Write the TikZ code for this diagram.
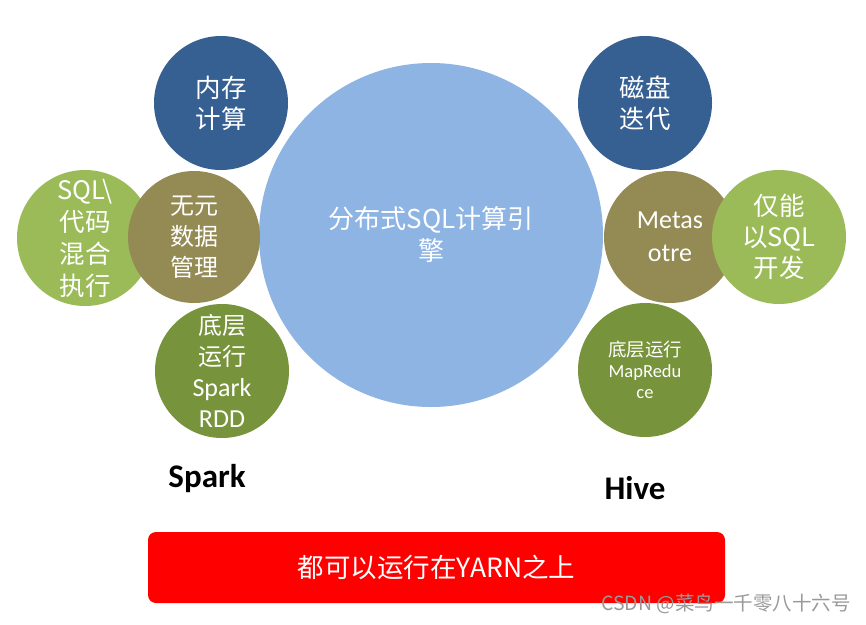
\documentclass[tikz,border=0pt]{standalone}
\usepackage{fontspec}
\setmainfont{Noto Sans CJK SC}
\newfontfamily\latinfont{Carlito}
\usetikzlibrary{positioning}

\definecolor{engineblue}{RGB}{142,180,227}
\definecolor{darkblue}{RGB}{55,96,146}
\definecolor{olivebrown}{RGB}{148,138,84}
\definecolor{lightgreen}{RGB}{155,187,89}
\definecolor{darkgreen}{RGB}{119,147,60}

\begin{document}
\begin{tikzpicture}[x=1pt,y=-1pt]
    % Styles
    \tikzset{
        bubble/.style={circle, minimum size=134pt, inner sep=0pt, text=white, align=center, font=\fontsize{24}{31}\selectfont},
        engine/.style={circle, fill=engineblue, minimum size=344pt, inner sep=0pt, text=white, align=center, font=\fontsize{26}{32}\selectfont},
        side_label/.style={font=\latinfont\bfseries\fontsize{33}{34}\selectfont, text=black},
        banner/.style={rectangle, fill=red, rounded corners=8pt, minimum width=577pt, minimum height=71pt, text=white, font=\fontsize{26.5}{30}\selectfont}
    }
    \useasboundingbox (0,0) rectangle (866,624);

    % --- Centre ---
    \node[engine] (engine) at (431,235) {分布式SQL计算引\\擎};

    % --- Spark side ---
    \node[bubble, fill=darkblue, font=\fontsize{25.5}{31}\selectfont] (mem) at (221,103) {内存\\计算};
    \node[bubble, fill=lightgreen, minimum size=136pt, font=\fontsize{25.5}{32}\selectfont] (mixed) at (85,238) {SQL\textbackslash\\代码\\混合\\执行};
    \node[bubble, fill=olivebrown, minimum size=132pt] (nometa) at (194,237) {无元\\数据\\管理};
    \node[bubble, fill=darkgreen] (rdd) at (222,371) {底层\\运行\\{\latinfont\fontsize{26}{32}\selectfont Spark}\\{\latinfont\fontsize{26}{32}\selectfont RDD}};

    % --- Hive side ---
    \node[bubble, fill=darkblue, font=\fontsize{25.5}{31}\selectfont] (disk) at (645,103) {磁盘\\迭代};
    \node[bubble, fill=olivebrown, minimum size=132pt, font=\latinfont\fontsize{26}{33}\selectfont] (metastore) at (670,237) {Metas\\otre};
    \node[bubble, fill=lightgreen, font=\fontsize{25.5}{31}\selectfont] (sqlonly) at (779,237) {仅能\\以SQL\\开发};
    \node[bubble, fill=darkgreen, font=\fontsize{18.5}{21}\selectfont] (mapred) at (645,370) {底层运行\\{\latinfont\fontsize{18.5}{21}\selectfont MapRedu}\\{\latinfont\fontsize{18.5}{21}\selectfont ce}};

    % --- Labels ---
    \node[side_label] (spark) at (207,479) {Spark};
    \node[side_label] (hive) at (635,488) {Hive};

    % --- Bottom banner ---
    \node[banner] (yarn) at (436.5,567.5) {都可以运行在YARN之上};

    % Watermark
    \node[anchor=east, text=gray!80, font=\fontsize{19.5}{21}\selectfont, inner sep=0pt] (mark) at (851,604) {CSDN @菜鸟一千零八十六号};

\end{tikzpicture}
\end{document}
